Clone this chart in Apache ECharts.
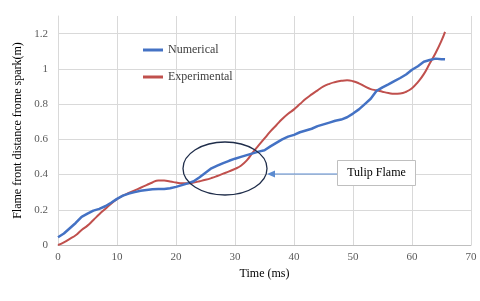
<!DOCTYPE html>
<html>
<head>
<meta charset="utf-8">
<script src="https://cdn.jsdelivr.net/npm/echarts@6/dist/echarts.min.js"></script>
<style>html,body{margin:0;padding:0;background:#fff;}#c{width:480px;height:301px;}</style>
</head>
<body>
<div id="c"></div>
<script>
const times = [0,1,2,3,4,5,6,7,8,9,10,11,12,13,14,15,16,17,18,19,20,21,22,23,24,25,26,27,28,29,30,31,32,33,34,35,36,37,38,39,40,41,42,43,44,45,46,47,48,49,50,51,52,53,54,55,56,57,58,59,60,61,62,63,64,65,65.6];
const numerical = [0.044,0.065,0.095,0.125,0.16,0.178,0.195,0.205,0.22,0.24,0.262,0.28,0.292,0.30,0.308,0.312,0.316,0.318,0.318,0.322,0.330,0.340,0.350,0.362,0.385,0.41,0.435,0.45,0.465,0.478,0.49,0.50,0.51,0.52,0.53,0.538,0.56,0.58,0.60,0.615,0.625,0.64,0.65,0.66,0.675,0.685,0.695,0.705,0.712,0.725,0.746,0.77,0.80,0.83,0.875,0.895,0.912,0.93,0.948,0.968,0.995,1.015,1.04,1.05,1.058,1.055,1.054];
const experimental = [0,0.015,0.035,0.055,0.085,0.11,0.142,0.175,0.205,0.235,0.26,0.28,0.295,0.31,0.325,0.34,0.355,0.366,0.366,0.36,0.355,0.35,0.35,0.355,0.362,0.37,0.38,0.392,0.405,0.418,0.432,0.45,0.48,0.525,0.565,0.605,0.645,0.68,0.715,0.745,0.77,0.80,0.83,0.855,0.878,0.9,0.915,0.925,0.932,0.935,0.93,0.918,0.9,0.885,0.878,0.87,0.863,0.858,0.86,0.87,0.89,0.925,0.97,1.03,1.09,1.16,1.21];
const seriesNames = ['Numerical','Experimental'];
const xTicks = [0,10,20,30,40,50,60,70];

const F = 'Liberation Serif';
const chart = echarts.init(document.getElementById('c'));
chart.setOption({
  animation: false,
  backgroundColor: '#fff',
  grid: {left: 58, right: 9, top: 16, bottom: 56},
  legend: {
    orient: 'vertical', left: 138, top: 39, itemWidth: 20, itemHeight: 3, itemGap: 15,
    textStyle: {fontFamily: F, fontSize: 12, color: '#404040'},
    data: seriesNames.map(n => ({name: n, icon: 'rect'}))
  },
  xAxis: {
    type: 'value', min: xTicks[0], max: xTicks[xTicks.length-1], interval: 10,
    name: 'Time (ms)', nameLocation: 'middle', nameGap: 22,
    nameTextStyle: {fontFamily: F, fontSize: 12, color: '#000'},
    axisLine: {show: true, lineStyle: {color: '#bfbfbf'}},
    axisTick: {show: false},
    axisLabel: {fontFamily: F, fontSize: 11, color: '#595959', margin: 7},
    splitLine: {show: true, lineStyle: {color: '#d9d9d9'}}
  },
  yAxis: {
    type: 'value', min: 0, max: 1.3, interval: 0.2,
    name: 'Flame front distance frome spark(m)', nameLocation: 'middle', nameGap: 27,
    nameTextStyle: {fontFamily: F, fontSize: 12, color: '#000'},
    axisLine: {show: true, lineStyle: {color: '#d9d9d9'}},
    axisTick: {show: false},
    axisLabel: {fontFamily: F, fontSize: 11, color: '#595959', margin: 10, showMaxLabel: false},
    splitLine: {show: true, showMaxLine: false, lineStyle: {color: '#d9d9d9'}}
  },
  series: [
    {
      name: seriesNames[0], type: 'line', symbol: 'none',
      data: times.map((t, i) => [t, numerical[i]]),
      lineStyle: {color: '#4472C4', width: 2.5}, itemStyle: {color: '#4472C4'}, z: 3
    },
    {
      name: seriesNames[1], type: 'line', symbol: 'none', smooth: true,
      data: times.map((t, i) => [t, experimental[i]]),
      lineStyle: {color: '#C0504D', width: 2}, itemStyle: {color: '#C0504D'}, z: 2
    }
  ],
  graphic: [
    {type: 'ellipse', shape: {cx: 225, cy: 168.5, rx: 42, ry: 26.5},
     style: {fill: 'none', stroke: '#1F2D4A', lineWidth: 1.3}, z: 100},
    {type: 'line', shape: {x1: 337, y1: 174, x2: 272, y2: 174},
     style: {stroke: '#5B8BD0', lineWidth: 1}, z: 100},
    {type: 'polygon', shape: {points: [[267, 174], [275, 170.5], [275, 177.5]]},
     style: {fill: '#5B8BD0'}, z: 100},
    {type: 'rect', shape: {x: 337.5, y: 160.5, width: 78, height: 25},
     style: {fill: '#fff', stroke: '#bfbfbf', lineWidth: 1}, z: 100},
    {type: 'text', x: 376.5, y: 173,
     style: {text: 'Tulip Flame', font: '12px "Liberation Serif"', fill: '#000', align: 'center', verticalAlign: 'middle'}, z: 101}
  ]
});
</script>
</body>
</html>
